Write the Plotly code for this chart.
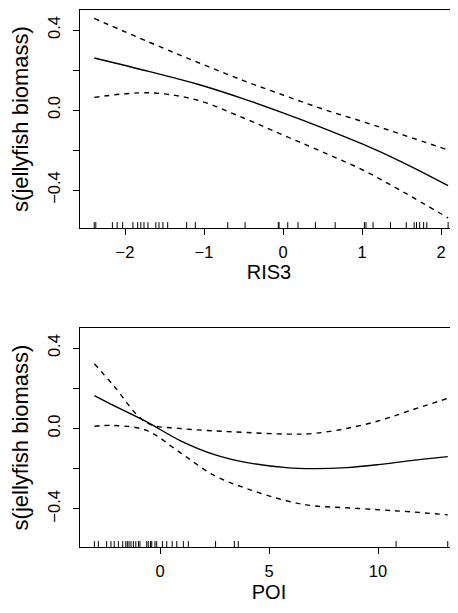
import plotly.graph_objects as go

# ---- Panel 1: RIS3 ----
ris3_x = [-2.39, -1.7, -1.09, -0.5, 0.0, 0.5, 1.01, 1.5, 2.09]
ris3_fit = [0.26, 0.193, 0.13, 0.056, -0.014, -0.089, -0.171, -0.259, -0.378]
ris3_upper = [0.458, 0.34, 0.24, 0.147, 0.075, 0.005, -0.058, -0.122, -0.20]
ris3_lower = [0.063, 0.086, 0.05, -0.04, -0.125, -0.21, -0.30, -0.405, -0.54]
ris3_rug = [-2.39, -2.37, -2.16, -2.10, -2.03, -1.90, -1.84, -1.80, -1.76, -1.71,
            -1.61, -1.57, -1.52, -1.46, -1.22, -1.11, -0.70, -0.48, -0.06, -0.05,
            0.06, 0.19, 0.41, 0.66, 1.03, 1.05, 1.14, 1.36, 1.56, 1.66, 1.69,
            1.73, 1.78, 1.82, 2.09]

# ---- Panel 2: POI ----
poi_x = [-3.01, -2.14, -0.61, 0.92, 2.5, 4.0, 5.8, 7.03, 8.56, 10.1, 11.5, 13.2]
poi_fit = [0.164, 0.115, 0.033, -0.06, -0.13, -0.17, -0.195, -0.2, -0.195, -0.179, -0.16, -0.14]
poi_upper = [0.322, 0.215, 0.028, 0.0, -0.012, -0.02, -0.028, -0.025, 0.0, 0.04, 0.09, 0.15]
poi_lower = [0.011, 0.015, -0.01, -0.12, -0.235, -0.30, -0.36, -0.385, -0.395, -0.405, -0.415, -0.43]
poi_rug = [-3.01, -2.83, -2.45, -2.25, -2.10, -1.91, -1.71, -1.57, -1.50, -1.42,
           -1.33, -1.22, -1.11, -0.99, -0.92, -0.61, -0.54, -0.44, -0.38, -0.23,
           -0.15, 0.11, 0.31, 0.56, 0.77, 1.07, 1.30, 2.55, 3.41, 3.59, 10.83, 13.2]

y_ticks = [-0.4, -0.2, 0.0, 0.2, 0.4]
y_ticktext = ["\u22120.4", "", "0.0", "", "0.4"]
ris3_ticks = [-2, -1, 0, 1, 2]
ris3_ticktext = ["\u22122", "\u22121", "0", "1", "2"]
poi_ticks = [0, 5, 10]

Y_RANGE = [-0.59, 0.5]
FONT = "Liberation Sans, Arial, sans-serif"

fig = go.Figure()

def add_panel(xs, fit, up, lo, rug, xa, ya):
    line = dict(color="black", width=1.4)
    dash = dict(color="black", width=1.4, dash="5px,5px")
    fig.add_trace(go.Scatter(x=xs, y=fit, mode="lines", line=dict(line, shape="spline"),
                             xaxis=xa, yaxis=ya, showlegend=False, hoverinfo="skip"))
    fig.add_trace(go.Scatter(x=xs, y=up, mode="lines", line=dict(dash, shape="spline"),
                             xaxis=xa, yaxis=ya, showlegend=False, hoverinfo="skip"))
    fig.add_trace(go.Scatter(x=xs, y=lo, mode="lines", line=dict(dash, shape="spline"),
                             xaxis=xa, yaxis=ya, showlegend=False, hoverinfo="skip"))
    rx, ry = [], []
    h = 0.027 * (Y_RANGE[1] - Y_RANGE[0])
    for v in rug:
        rx += [v, v, None]
        ry += [Y_RANGE[0], Y_RANGE[0] + h, None]
    fig.add_trace(go.Scatter(x=rx, y=ry, mode="lines", line=dict(color="black", width=1),
                             xaxis=xa, yaxis=ya, showlegend=False, hoverinfo="skip"))

add_panel(ris3_x, ris3_fit, ris3_upper, ris3_lower, ris3_rug, "x", "y")
add_panel(poi_x, poi_fit, poi_upper, poi_lower, poi_rug, "x2", "y2")

# page body has an 8px margin, so the figure is offset by 8px
OFF = 8
W, H = 458 - OFF, 613 - OFF
xdom = [(80 - OFF) / W, 1.0]

def ydom(top_px, bot_px):
    return [1 - (bot_px - OFF) / H, 1 - (top_px - OFF) / H]

xtitle_font = dict(family=FONT, size=20, color="black")
ytitle_font = dict(family=FONT, size=22, color="black")
tick_font = dict(family=FONT, size=16.5, color="black")

common_x = dict(showline=True, linecolor="black", linewidth=1, mirror=True,
                ticks="outside", ticklen=6, tickwidth=1, tickcolor="black",
                showgrid=False, zeroline=False, automargin=False,
                ticklabelstandoff=3, tickfont=tick_font)
common_y = dict(showline=True, linecolor="black", linewidth=1, mirror=False,
                ticks="outside", ticklen=6, tickwidth=1, tickcolor="black",
                showgrid=False, zeroline=False, range=Y_RANGE, automargin=False,
                tickvals=y_ticks, ticktext=y_ticktext, tickangle=-90,
                ticklabelstandoff=6, tickfont=tick_font,
                title=dict(text="s(jellyfish biomass)", standoff=10, font=ytitle_font))

fig.update_layout(
    width=W, height=H,
    margin=dict(l=0, r=0, t=0, b=0),
    paper_bgcolor="white", plot_bgcolor="white",
    xaxis=dict(common_x, domain=xdom, anchor="y", range=[-2.57, 2.215],
               tickvals=ris3_ticks, ticktext=ris3_ticktext,
               title=dict(text="RIS3", standoff=3, font=xtitle_font)),
    yaxis=dict(common_y, domain=ydom(10, 228), anchor="x"),
    xaxis2=dict(common_x, domain=xdom, anchor="y2", range=[-3.67, 13.67],
                tickvals=poi_ticks,
                title=dict(text="POI", standoff=6, font=xtitle_font)),
    yaxis2=dict(common_y, domain=ydom(328, 547), anchor="x2"),
)

fig.write_html("out.html")
